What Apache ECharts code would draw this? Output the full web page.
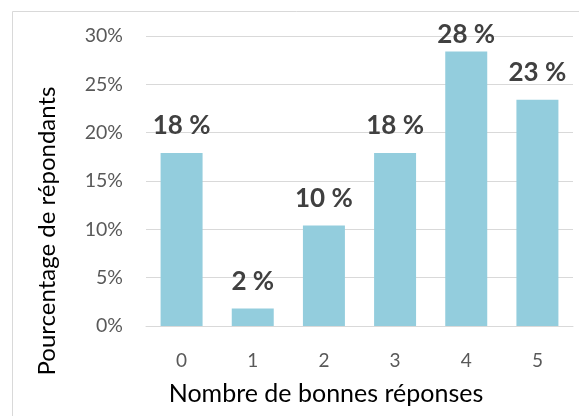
<!DOCTYPE html>
<html><head><meta charset="utf-8">
<script src="https://cdn.jsdelivr.net/npm/echarts@6/dist/echarts.min.js"></script>
<style>html,body{margin:0;padding:0;background:#fff}#c{width:579px;height:416px}</style>
</head><body><div id="c"></div>
<script>
const categories = ['0','1','2','3','4','5'];
const values = [17.9, 1.8, 10.4, 17.9, 28.4, 23.4];
const valueLabels = ['18 %','2 %','10 %','18 %','28 %','23 %'];
const yTicks = [0,5,10,15,20,25,30];
const xTitle = 'Nombre de bonnes réponses';
const yTitle = 'Pourcentage de répondants';

const chart = echarts.init(document.getElementById('c'), null, {renderer:'canvas'});
const font = 'Lato, "Liberation Sans", sans-serif';
chart.setOption({
  animation:false,
  backgroundColor:'#fff',
  graphic:[
    {type:'rect',shape:{x:12.5,y:11.5,width:700,height:500},style:{fill:null,stroke:'#d9d9d9',lineWidth:1},silent:true},
    {type:'text',x:326,y:394,style:{text:xTitle,fill:'#000',font:'25px '+font,textAlign:'center',textVerticalAlign:'middle',verticalAlign:'middle'}},
    {type:'text',x:47,y:231,rotation:Math.PI/2,style:{text:yTitle,fill:'#000',font:'24px '+font,textAlign:'center',textVerticalAlign:'middle',verticalAlign:'middle'}}
  ],
  grid:{left:146,right:6,top:36,bottom:90},
  xAxis:{type:'category',data:categories,
    axisLine:{lineStyle:{color:'#d9d9d9',width:1}},axisTick:{show:false},
    axisLabel:{color:'#595959',fontSize:19,fontFamily:font,margin:25}},
  yAxis:{type:'value',min:0,max:30,interval:5,
    axisLine:{show:false},axisTick:{show:false},
    splitLine:{lineStyle:{color:'#d9d9d9',width:1}},
    axisLabel:{color:'#595959',fontSize:19.5,fontFamily:font,margin:23,
      formatter:v=>yTicks.includes(v)?v+'%':''}},
  series:[{type:'bar',barCategoryGap:'41%',
    itemStyle:{color:'#93cddd'},
    data:values.map((v,i)=>({value:v,label:{distance: i===4?4:14}})),
    label:{show:true,position:'top',color:'#404040',fontSize:26,fontWeight:'bold',fontFamily:font,
      formatter:p=>valueLabels[p.dataIndex]}}]
});
</script></body></html>
